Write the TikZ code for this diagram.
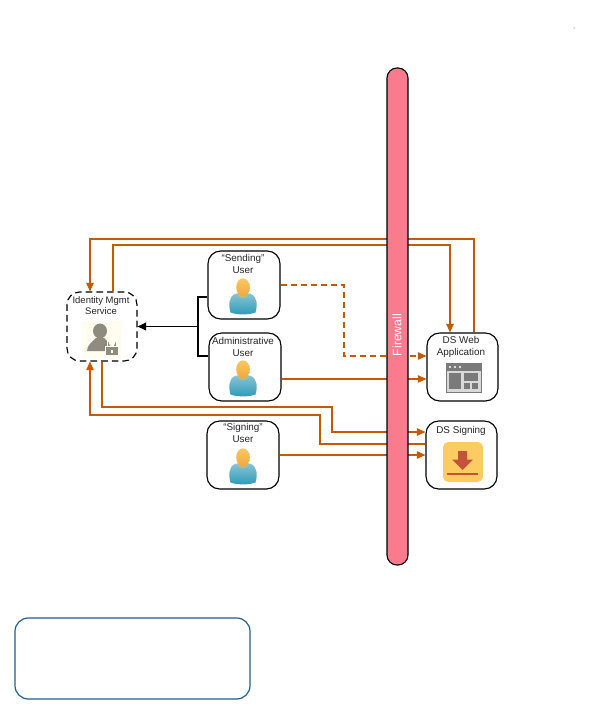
\documentclass[tikz,border=0pt]{standalone}
\usepackage{fontspec}
\setmainfont{Liberation Sans}
\usetikzlibrary{arrows.meta}
\definecolor{flowc}{HTML}{C55A00}
\definecolor{fwc}{HTML}{FA7A8E}
\definecolor{bluebox}{HTML}{1F5F8F}
\definecolor{webg}{HTML}{7A7A7A}
\definecolor{signbg}{HTML}{FCCB62}
\definecolor{signar}{HTML}{C5523A}
\definecolor{idbg}{HTML}{FFFDF0}
\definecolor{idg}{HTML}{8F8B80}
\definecolor{bodytop}{HTML}{8FC4D4}
\definecolor{bodybot}{HTML}{2A9CB8}
\definecolor{headtop}{HTML}{FBC860}
\definecolor{headbot}{HTML}{F0A840}
\definecolor{collar}{HTML}{B8C080}
\tikzset{
  box/.style={draw=black,line width=0.85pt,rounded corners=9.5pt,inner sep=0pt,fill=white},
  lbl/.style={font=\fontsize{7.4pt}{8.6pt}\selectfont,align=center,text=black!85,inner sep=0pt},
  flow/.style={draw=flowc,line width=0.8pt,-{Triangle[length=6.4pt,width=5.6pt]}},
  ctl/.style={draw=black,line width=0.85pt}
}
\newcommand{\usericon}[1]{%
  \begin{scope}[shift={(#1)}]
    \path[top color=bodytop,bottom color=bodybot,draw=none]
      (-12.5,27.5) .. controls (-14.5,20) and (-14.5,12) .. (-8,9) .. controls (-4,7.5) and (4,7.5) .. (8,9)
      .. controls (14.5,12) and (14.5,20) .. (12.5,27.5) .. controls (6,30) and (-6,30) .. (-12.5,27.5) -- cycle;
    \fill[collar] (-5,8) -- (5,8) -- (4,12) .. controls (2,13) and (-2,13) .. (-4,12) -- cycle;
    \shade[top color=headtop,bottom color=headbot] (0,2.3) ellipse [x radius=6.8,y radius=9];
  \end{scope}}
\begin{document}
\begin{tikzpicture}[x=0.75pt,y=-0.75pt]
\useasboundingbox (0,0) rectangle (595,713);
\fill[white] (0,0) rectangle (595,713);

% boxes
\node[box,dashed,dash pattern=on 5pt off 3pt,minimum width=52.5pt,minimum height=51.75pt] (idm) at (102,326.5) {};
\node[box,minimum width=54pt,minimum height=51pt] (send) at (244,285) {};
\node[box,minimum width=54pt,minimum height=51pt] (admin) at (245,367) {};
\node[box,minimum width=54pt,minimum height=51pt] (sign) at (243,455) {};
\node[box,minimum width=53.25pt,minimum height=51pt] (web) at (462.5,367) {};
\node[box,minimum width=53.25pt,minimum height=51pt] (dss) at (461.5,455) {};
\node[draw=bluebox,line width=0.9pt,rounded corners=10pt,minimum width=176.25pt,minimum height=60.75pt,inner sep=0pt] (legend) at (132.5,658.5) {};

% connectors
\draw[flow] (web.north -| 474,0) -- (474,239) -- (90,239) -- (idm.north -| 90,0);
\draw[flow] (idm.north -| 113,0) -- (113,245) -- (450,245) -- (web.north -| 450,0);
\draw[flow,dashed,dash pattern=on 4.5pt off 3pt] (send.east) -- (344,285) -- (344,356) -- (web.west |- 0,356);
\draw[flow] (admin.east |- 0,379) -- (web.west |- 0,379);
\draw[flow] (sign.east) -- (dss.west);
\draw[flow] (idm.south -| 102,0) -- (102,407) -- (332,407) -- (332,432) -- (dss.west |- 0,432);
\draw[flow] (dss.west |- 0,444) -- (320,444) -- (320,415) -- (90,415) -- (idm.south -| 90,0);
\draw[ctl] (send.west |- 0,297) -- (198,297) -- (198,356) -- (admin.west |- 0,356);
\coordinate (ctljoin) at (198,326.5);
\draw[ctl,line width=1pt,-{Triangle[length=6.4pt,width=5.8pt]}] (ctljoin) -- (idm.east);

% firewall
\node[draw=black,line width=0.85pt,fill=fwc,rounded corners=7.5pt,minimum width=15.75pt,minimum height=372.75pt,inner sep=0pt] (fw) at (397.5,316.5) {};
\node[rotate=90,text=white,font=\fontsize{9.2pt}{10pt}\selectfont,inner sep=0pt] (fwl) at (397,335) {Firewall};

% labels
\node[lbl,font=\fontsize{7.1pt}{8.6pt}\selectfont] (idl) at (101,305.5) {Identity Mgmt\\Service};
\node[lbl] (sl) at (243,264) {“Sending”\\User};
\node[lbl] (al) at (243,347) {Administrative\\User};
\node[lbl] (gl) at (243,433) {“Signing”\\User};
\node[lbl] (wl) at (461,347) {DS Web\\Application};
\node[lbl] (dl) at (461,431) {DS Signing};

% users
\usericon{243,285}
\usericon{243,367}
\usericon{243,455}

% identity icon
\fill[idbg] (82,321) rectangle (122,358);
\fill[idg] (100,331) ellipse [x radius=7,y radius=7.5];
\fill[idg] (87,351) .. controls (87,345) and (92,342) .. (96,338) -- (104,338) .. controls (108,342) and (113,345) .. (113,351) -- cycle;
\draw[idbg,line width=2.6pt] (108.8,347) -- (108.8,345) arc[start angle=180,end angle=0,radius=3.2] -- (115.2,347);
\draw[idg,line width=1.1pt] (108.8,347) -- (108.8,345) arc[start angle=180,end angle=0,radius=3.2] -- (115.2,347);
\fill[idg,draw=idbg,line width=0.8pt] (105.5,346.5) rectangle (118.5,356);
\fill[idbg] (111,349.5) rectangle (113,353);

% web icon
\fill[webg] (445.5,363) rectangle (482,393);
\fill[white!85!black] (447,370.5) rectangle (480.5,391.5);
\fill[webg] (449,373) rectangle (461,389);
\fill[webg] (464,373) rectangle (478,381);
\fill[webg] (464,383) rectangle (470,389);
\fill[webg] (471.5,383) rectangle (478,389);
\foreach \dotx in {450,455,460}{\fill[white] (\dotx,367) circle [radius=1.1];}

% signing icon
\fill[signbg,rounded corners=4pt] (443,442) rectangle (483,482);
\fill[signar] (458,451) -- (467,451) -- (467,459.5) -- (473,459.5) -- (462.5,470) -- (452,459.5) -- (458,459.5) -- cycle;
\draw[signar,line width=1pt] (447,474) -- (478,474);

% speck
\fill[black!80] (574,28) circle [radius=0.5];
\end{tikzpicture}
\end{document}
